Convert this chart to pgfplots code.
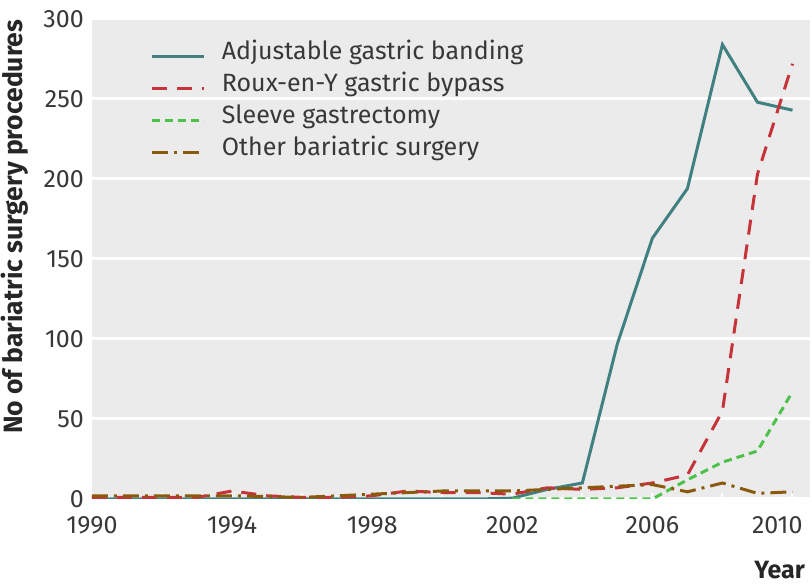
\documentclass[border=0pt]{standalone}
\usepackage{fontspec}
\setmainfont{Fira Sans}
\usepackage{pgfplots}
\pgfplotsset{compat=1.18}
\definecolor{bg}{HTML}{EBEBEB}
\definecolor{cteal}{HTML}{418080}
\definecolor{cred}{HTML}{C5343A}
\definecolor{cgreen}{HTML}{4DC24A}
\definecolor{cbrown}{HTML}{8A5A0C}
\begin{document}
\begin{tikzpicture}
\begin{axis}[
  scale only axis,
  width=718pt, height=480pt,
  xmin=1990, xmax=2010.5,
  ymin=0, ymax=300,
  axis background/.style={fill=bg},
  axis line style={draw=none},
  xtick={1990,1994,...,2010},
  xticklabels={1990,1994,1998,2002,2006,\makebox[0pt][r]{2010\kern-10pt}},
  minor xtick={1992,1996,...,2008},
  ytick={0,50,...,300},
  tick style={draw=white, line width=2pt},
  major tick length=6pt, minor tick length=6pt,
  xtick pos=bottom, ytick pos=left,
  ymajorgrids, grid style={white, line width=3pt},
  tick align=inside,
  ytick style={draw=none},
  /pgf/number format/assume math mode=true,
  ticklabel style={font=\fontsize{25}{29}\selectfont, text=black!78},
  yticklabel style={inner xsep=0pt, xshift=-8pt},
  xticklabel style={inner sep=0pt, yshift=-17pt},
  ylabel={\bfseries No of bariatric surgery procedures},
  ylabel style={font=\fontsize{26.5}{30}\selectfont, text=black!85, at={(axis description cs:-0.107,0.567)}, anchor=center},
  xlabel={\bfseries Year},
  xlabel style={font=\fontsize{25}{28}\selectfont, text=black!85, at={(axis description cs:1,0)}, anchor=east, inner sep=0pt, xshift=-5pt, yshift=-71pt},
  legend style={draw=none, fill=none, at={(axis description cs:0.082,0.955)}, anchor=north west,
    inner sep=0pt, outer sep=0pt,
    font=\fontsize{25}{29}\selectfont, text=black!78, row sep=0pt,
    legend cell align=left,
    nodes={inner xsep=2pt, inner ysep=0pt, text height=19pt, text depth=13pt}},
  legend image code/.code={\draw[#1] (0pt,0pt) -- (52pt,0pt); \path (66pt,0pt);},
  every axis plot/.append style={line width=3pt},
]
\addplot[cteal] coordinates {
(1990,0)(1991,0)(1992,0)(1993,0)(1994,0)(1995,0)(1996,0)(1997,0)(1998,0)(1999,0)(2000,0)(2001,0)(2002,0.5)(2003,6)(2004,10)(2005,97)(2006,163)(2007,194)(2008,284)(2009,248)(2010,243)};
\addlegendentry{Adjustable gastric banding}
\addplot[cred, dash pattern=on 15pt off 10pt] coordinates {
(1990,1)(1991,1)(1992,1)(1993,1)(1994,5)(1995,2)(1996,1)(1997,1)(1998,2)(1999,5)(2000,4)(2001,4)(2002,3)(2003,7)(2004,6)(2005,7)(2006,10)(2007,15)(2008,55)(2009,203)(2010,272)};
\addlegendentry{Roux-en-Y gastric bypass}
\addplot[cgreen, dash pattern=on 8pt off 5pt] coordinates {
(2002,0)(2003,0)(2004,0)(2005,0)(2006,0)(2007,12)(2008,23)(2009,30)(2010,67)};
\addlegendentry{Sleeve gastrectomy}
\addplot[cbrown, dash pattern=on 16pt off 6pt on 3pt off 6pt] coordinates {
(1990,2)(1991,2)(1992,2)(1993,2)(1994,2)(1995,1.5)(1996,1)(1997,2)(1998,3)(1999,4)(2000,5)(2001,5)(2002,5)(2003,6)(2004,7)(2005,8)(2006,9)(2007,4.5)(2008,10)(2009,3.5)(2010,4.5)};
\addlegendentry{Other bariatric surgery}
\end{axis}
\pgfresetboundingbox
\path ([shift={(-92pt,-89pt)}]current axis.south west) rectangle ([shift={(2pt,19pt)}]current axis.north east);
\end{tikzpicture}
\end{document}
